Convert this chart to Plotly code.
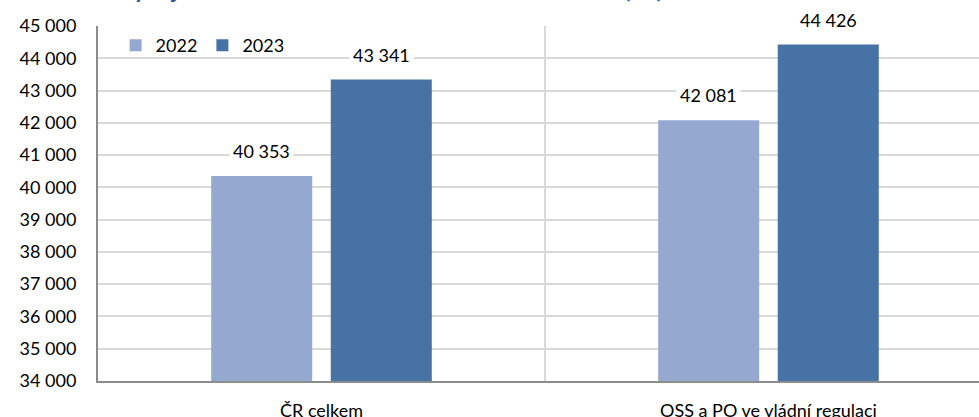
import plotly.graph_objects as go

categories = ["ČR celkem", "OSS a PO ve vládní regulaci"]
years = ["2022", "2023"]
values_2022 = [40353, 42081]
values_2023 = [43341, 44426]
y_ticks = list(range(34000, 45001, 1000))

colors = {"2022": "#95A9D0", "2023": "#4672A6"}
FONT = "Lato"

fig = go.Figure()
for year, vals in zip(years, [values_2022, values_2023]):
    fig.add_trace(go.Bar(
        x=categories, y=vals, name=year,
        marker=dict(color=colors[year], line=dict(width=0)),
    ))

# value labels on white boxes above bars
for i, (year, vals) in enumerate(zip(years, [values_2022, values_2023])):
    for cat, v in zip(categories, vals):
        fig.add_annotation(
            x=cat, y=v, xref="x", yref="y",
            text=f"{v:,}".replace(",", " "),
            showarrow=False, yanchor="bottom",
            xshift=-60 if i == 0 else 60, yshift=10,
            bgcolor="white", borderpad=3,
            font=dict(family=FONT, size=18, color="#000000"),
        )

# title, cut at the top edge of the picture
fig.add_annotation(
    x=0, y=1, xref="paper", yref="paper",
    xanchor="left", yanchor="bottom", xshift=17, yshift=21,
    text="<b>Vývoj mzdové úrovně v ČR celkem a v OSS a PO (Kč)</b>",
    showarrow=False,
    font=dict(family=FONT, size=23.5, color="#2E57A3"),
)

fig.update_layout(
    width=979, height=417,
    margin=dict(l=98, r=0, t=26, b=36),
    paper_bgcolor="white", plot_bgcolor="white",
    barmode="group", bargap=0.465, bargroupgap=0.155,
    separators=", ",
    font=dict(family=FONT, size=18, color="#000000"),
    showlegend=True,
    legend=dict(
        orientation="h", x=0.02, y=0.997, xanchor="left", yanchor="top",
        bgcolor="rgba(0,0,0,0)", font=dict(size=18), itemwidth=30,
        traceorder="normal",
    ),
)

fig.update_xaxes(
    type="category", range=[-0.5, 1.471], automargin=False,
    tickson="boundaries", ticks="",
    showgrid=True, gridcolor="#D9D9D9", gridwidth=2,
    showline=True, linecolor="#8C8C8C", linewidth=2,
    ticklabelstandoff=12,
)
fig.update_yaxes(
    range=[34000, 45000], tickvals=y_ticks, automargin=False,
    tickformat=",d", ticks="",
    showgrid=True, gridcolor="#D9D9D9", gridwidth=2,
    showline=True, linecolor="#8C8C8C", linewidth=2,
    ticklabelstandoff=16, zeroline=False,
)

# page body margin off, so the figure sits at the window's corner
fig.write_html(
    "out.html",
    config={"displayModeBar": False},
    post_script="document.body.style.margin='0';",
)
